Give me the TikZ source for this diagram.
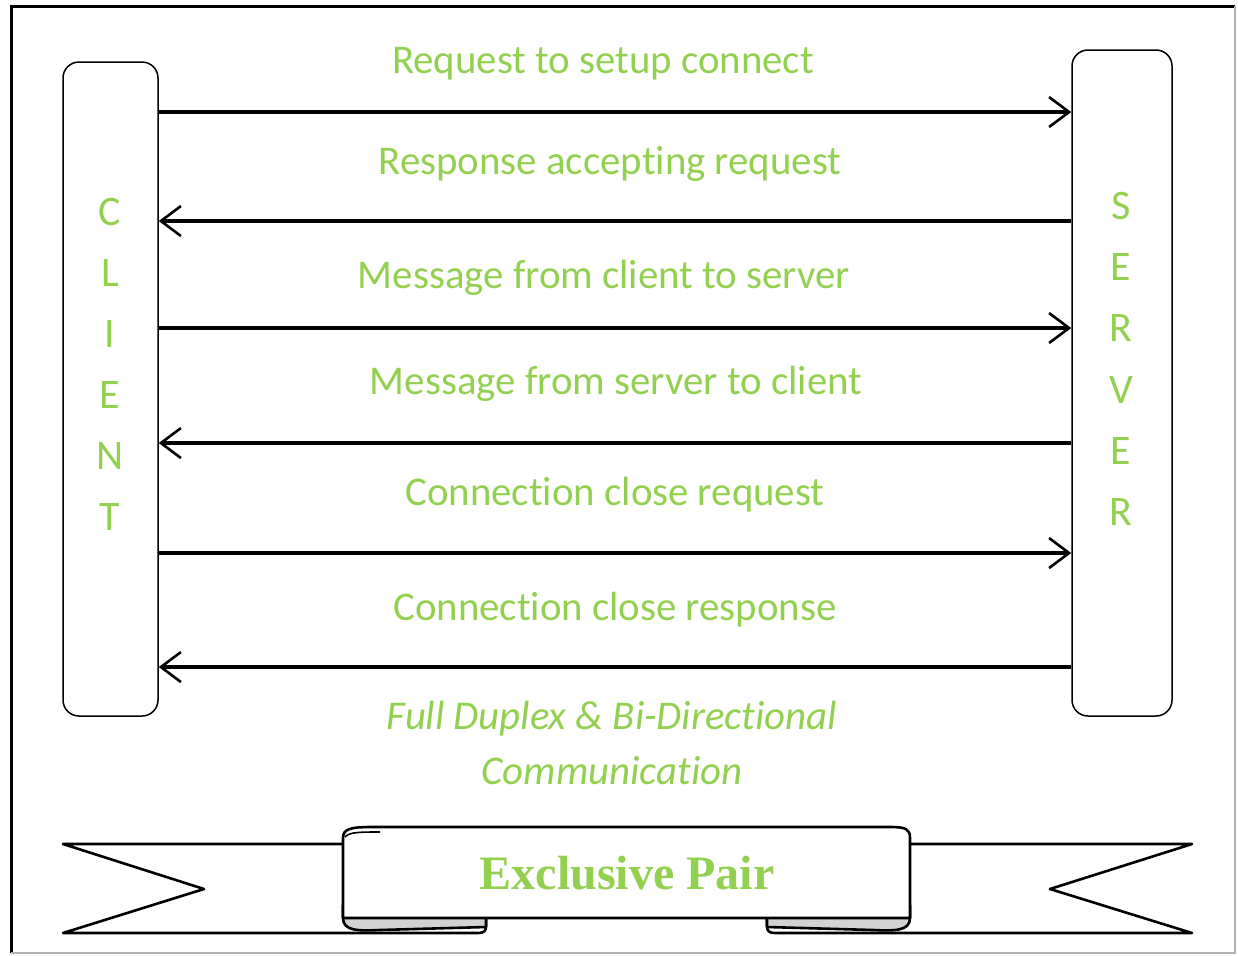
\documentclass[tikz,border=0pt]{standalone}
\usepackage{fontspec}
\setmainfont[Ligatures=NoCommon]{Carlito}
\newfontfamily\bannerfont{Liberation Serif}
\usetikzlibrary{arrows.meta}
\definecolor{msggreen}{HTML}{92D050}

\tikzset{
  party/.style={draw, rounded corners=8pt, line width=0.75pt, inner sep=0pt},
  letter/.style={text=msggreen, font=\fontsize{21}{24}\selectfont},
  msg/.style={line width=1.6pt, -{Straight Barb[length=10pt,width=15pt,line width=1.3pt]}},
  lbl/.style={text=msggreen, anchor=base, font=\fontsize{20.4}{24}\selectfont},
  ribbon/.style={line width=1.3pt, line join=round},
}

\begin{document}
\begin{tikzpicture}[x=0.5pt,y=-0.5pt]
  \useasboundingbox (0,0) rectangle (1238,955);
  % outer frame
  \draw[line width=1.5pt] (11,953) -- (11,6) -- (1235,6);
  \draw[gray!60, line width=0.6pt] (1235,6) -- (1235,953) -- (11,953);

  % client and server boxes
  \node[party, minimum width=47.5pt, minimum height=327pt] (client) at (110.5,389) {};
  \node[party, minimum width=50pt, minimum height=333pt] (server) at (1122,383) {};
  \foreach \ch [count=\i from 0] in {C,L,I,E,N,T}
    \node[letter] (cl\i) at (110,212+61*\i) {\ch};
  \foreach \ch [count=\i from 0] in {S,E,R,V,E,R}
    \node[letter] (sv\i) at (1121,206+61.2*\i) {\ch};

  % messages
  \foreach \y in {112,328,553}
    \draw[msg] (client.east |- 0,\y) -- (server.west |- 0,\y);
  \foreach \y in {221,443,667}
    \draw[msg] (server.west |- 0,\y) -- (client.east |- 0,\y);

  \node[lbl] (m1) at (603,73) {Request to setup connect};
  \node[lbl] (m2) at (610,174) {Response accepting request};
  \node[lbl] (m3) at (604,288) {Message from client to server};
  \node[lbl] (m4) at (616,394) {Message from server to client};
  \node[lbl] (m5) at (615,505) {Connection close request};
  \node[lbl] (m6) at (615,620) {Connection close response};
  \node[lbl, font=\fontsize{20.4}{24}\selectfont\itshape] (dup1) at (612,729) {Full Duplex \& Bi-Directional};
  \node[lbl, font=\fontsize{20.4}{24}\selectfont\itshape] (dup2) at (612,784) {Communication};

  % banner: tails, folds, middle band
  \draw[ribbon] (343,844) -- (63,844) -- (204,889) -- (63,933) -- (478,933)
    .. controls (484,933) and (486,931) .. (486,926) -- (486,918);
  \draw[ribbon] (910,844) -- (1192,844) -- (1050,889) -- (1192,933) -- (775,933)
    .. controls (769,933) and (767,931) .. (767,926) -- (767,918);
  \filldraw[ribbon, fill=gray!35] (343,905) -- (343,918) .. controls (343,931) and (358,931) .. (380,930)
    -- (486,927) -- (486,905) -- cycle;
  \filldraw[ribbon, fill=gray!35] (910,905) -- (910,918) .. controls (910,931) and (895,931) .. (873,930)
    -- (767,927) -- (767,905) -- cycle;
  \filldraw[ribbon, fill=white] (343,918) -- (343,838) .. controls (343,829) and (350,827) .. (372,827)
    -- (890,827) .. controls (906,827) and (910,829) .. (910,838) -- (910,918) -- cycle;
  \draw[line width=0.8pt] (345,837) .. controls (349,832) and (360,832) .. (380,832);
  \node[text=msggreen, font=\bannerfont\bfseries\fontsize{24}{28}\selectfont] (title) at (627,873) {Exclusive Pair};
\end{tikzpicture}
\end{document}
